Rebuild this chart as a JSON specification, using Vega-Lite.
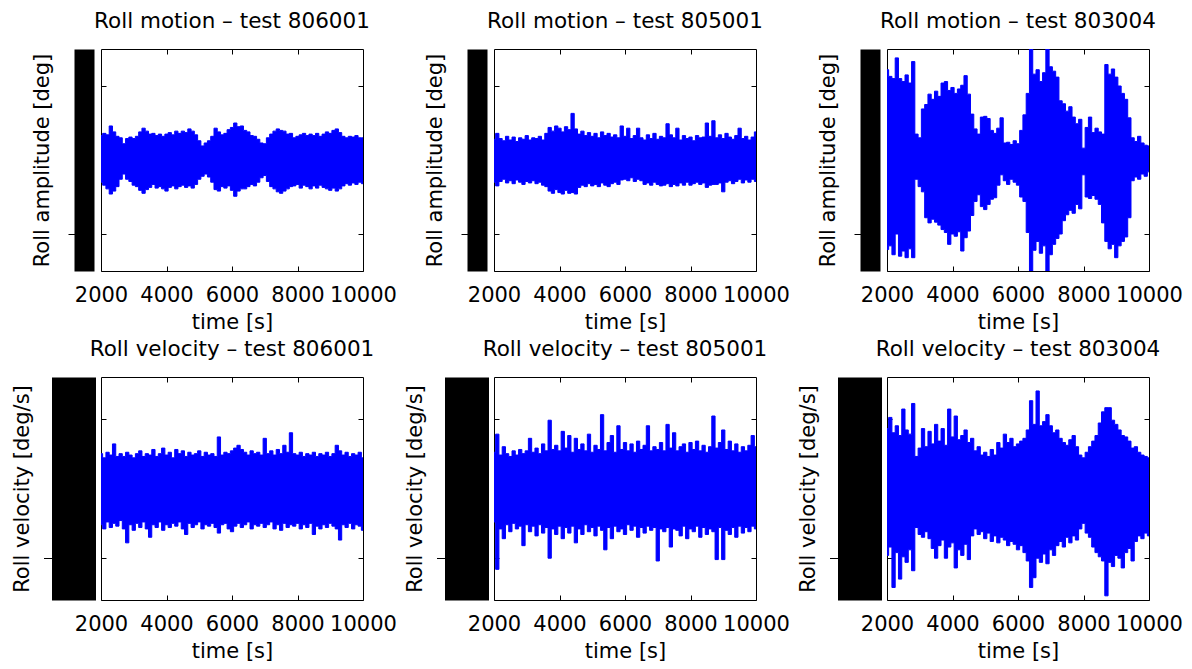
{
  "$schema": "https://vega.github.io/schema/vega-lite/v6.json",
  "padding": {"left": 10, "top": 10, "right": 5, "bottom": 5},
  "background": "white",
  "columns": 3,
  "spacing": {"row": 5, "column": 6},
  "datasets": {
    "m806001": [
      {"t":2000,"h":3.3,"l":-3.0},{"t":2100,"h":3.6,"l":-3.4},{"t":2200,"h":3.4,"l":-3.9},{"t":2300,"h":4.6,"l":-4.6},{"t":2400,"h":3.8,"l":-4.2},
      {"t":2500,"h":3.2,"l":-3.6},{"t":2600,"h":3.0,"l":-2.6},{"t":2700,"h":2.2,"l":-1.9},{"t":2800,"h":2.9,"l":-2.6},{"t":2900,"h":3.1,"l":-2.9},
      {"t":3000,"h":2.9,"l":-3.4},{"t":3100,"h":3.2,"l":-3.6},{"t":3200,"h":3.8,"l":-4.1},{"t":3300,"h":4.3,"l":-4.5},{"t":3400,"h":3.9,"l":-4.0},
      {"t":3500,"h":3.5,"l":-3.7},{"t":3600,"h":3.6,"l":-3.3},{"t":3700,"h":3.3,"l":-3.8},{"t":3800,"h":3.5,"l":-3.6},{"t":3900,"h":3.2,"l":-3.9},
      {"t":4000,"h":3.5,"l":-4.2},{"t":4100,"h":3.7,"l":-3.7},{"t":4200,"h":3.4,"l":-3.5},{"t":4300,"h":3.9,"l":-3.9},{"t":4400,"h":3.6,"l":-3.6},
      {"t":4500,"h":3.9,"l":-3.4},{"t":4600,"h":3.7,"l":-3.7},{"t":4700,"h":4.2,"l":-3.5},{"t":4800,"h":3.9,"l":-3.8},{"t":4900,"h":3.4,"l":-3.3},
      {"t":5000,"h":2.6,"l":-2.6},{"t":5100,"h":1.9,"l":-2.2},{"t":5200,"h":2.3,"l":-1.9},{"t":5300,"h":2.6,"l":-2.3},{"t":5400,"h":3.2,"l":-3.0},
      {"t":5500,"h":4.3,"l":-4.0},{"t":5600,"h":3.8,"l":-4.2},{"t":5700,"h":3.4,"l":-3.6},{"t":5800,"h":3.6,"l":-3.8},{"t":5900,"h":4.1,"l":-3.5},
      {"t":6000,"h":4.4,"l":-4.1},{"t":6100,"h":5.0,"l":-4.9},{"t":6200,"h":4.5,"l":-4.2},{"t":6300,"h":4.6,"l":-3.9},{"t":6400,"h":4.0,"l":-3.9},
      {"t":6500,"h":3.8,"l":-3.6},{"t":6600,"h":3.3,"l":-3.3},{"t":6700,"h":3.2,"l":-3.5},{"t":6800,"h":2.8,"l":-3.0},{"t":6900,"h":2.3,"l":-2.4},
      {"t":7000,"h":2.2,"l":-2.1},{"t":7100,"h":3.0,"l":-2.9},{"t":7200,"h":3.5,"l":-3.6},{"t":7300,"h":3.9,"l":-3.9},{"t":7400,"h":4.2,"l":-4.3},
      {"t":7500,"h":4.0,"l":-4.5},{"t":7600,"h":3.9,"l":-4.2},{"t":7700,"h":3.5,"l":-3.9},{"t":7800,"h":3.6,"l":-3.6},{"t":7900,"h":3.0,"l":-3.5},
      {"t":8000,"h":3.2,"l":-3.3},{"t":8100,"h":3.4,"l":-3.8},{"t":8200,"h":3.6,"l":-3.4},{"t":8300,"h":3.3,"l":-3.6},{"t":8400,"h":3.5,"l":-3.9},
      {"t":8500,"h":3.3,"l":-3.5},{"t":8600,"h":3.6,"l":-3.8},{"t":8700,"h":3.2,"l":-3.4},{"t":8800,"h":3.5,"l":-3.7},{"t":8900,"h":3.8,"l":-3.9},
      {"t":9000,"h":3.6,"l":-4.1},{"t":9100,"h":4.0,"l":-3.8},{"t":9200,"h":4.2,"l":-4.2},{"t":9300,"h":3.7,"l":-3.9},{"t":9400,"h":3.2,"l":-3.5},
      {"t":9500,"h":3.0,"l":-3.2},{"t":9600,"h":3.2,"l":-3.4},{"t":9700,"h":3.1,"l":-3.1},{"t":9800,"h":3.3,"l":-3.3},{"t":9900,"h":3.0,"l":-3.0},
      {"t":10000,"h":3.0,"l":-3.2}
    ],
    "m805001": [
      {"t":2000,"h":2.8,"l":-3.0},{"t":2100,"h":3.6,"l":-3.5},{"t":2200,"h":2.9,"l":-2.9},{"t":2300,"h":2.6,"l":-2.6},{"t":2400,"h":3.2,"l":-3.1},
      {"t":2500,"h":2.7,"l":-2.8},{"t":2600,"h":3.1,"l":-3.2},{"t":2700,"h":2.5,"l":-2.7},{"t":2800,"h":3.0,"l":-3.0},{"t":2900,"h":2.8,"l":-3.3},
      {"t":3000,"h":3.3,"l":-2.9},{"t":3100,"h":2.7,"l":-3.1},{"t":3200,"h":3.0,"l":-2.8},{"t":3300,"h":2.9,"l":-3.2},{"t":3400,"h":3.2,"l":-3.0},
      {"t":3500,"h":2.7,"l":-3.4},{"t":3600,"h":3.6,"l":-3.6},{"t":3700,"h":4.4,"l":-4.2},{"t":3800,"h":3.9,"l":-4.5},{"t":3900,"h":4.6,"l":-4.0},
      {"t":4000,"h":4.3,"l":-4.4},{"t":4100,"h":3.8,"l":-4.6},{"t":4200,"h":4.5,"l":-4.1},{"t":4300,"h":4.1,"l":-4.5},{"t":4400,"h":6.3,"l":-4.4},
      {"t":4500,"h":4.2,"l":-4.6},{"t":4600,"h":3.5,"l":-3.7},{"t":4700,"h":3.9,"l":-3.4},{"t":4800,"h":3.3,"l":-3.6},{"t":4900,"h":3.7,"l":-3.2},
      {"t":5000,"h":3.2,"l":-3.5},{"t":5100,"h":3.6,"l":-3.3},{"t":5200,"h":3.0,"l":-3.6},{"t":5300,"h":3.8,"l":-3.1},{"t":5400,"h":3.3,"l":-3.4},
      {"t":5500,"h":3.6,"l":-3.6},{"t":5600,"h":3.1,"l":-3.2},{"t":5700,"h":3.4,"l":-3.0},{"t":5800,"h":3.0,"l":-3.3},{"t":5900,"h":4.6,"l":-2.7},
      {"t":6000,"h":3.2,"l":-2.6},{"t":6100,"h":4.3,"l":-2.8},{"t":6200,"h":2.9,"l":-2.4},{"t":6300,"h":3.3,"l":-2.9},{"t":6400,"h":4.3,"l":-2.6},
      {"t":6500,"h":3.0,"l":-2.8},{"t":6600,"h":2.7,"l":-3.3},{"t":6700,"h":3.4,"l":-3.1},{"t":6800,"h":2.9,"l":-3.4},{"t":6900,"h":3.6,"l":-3.0},
      {"t":7000,"h":2.8,"l":-3.3},{"t":7100,"h":3.2,"l":-3.5},{"t":7200,"h":3.0,"l":-3.4},{"t":7300,"h":4.9,"l":-3.2},{"t":7400,"h":3.4,"l":-3.6},
      {"t":7500,"h":3.0,"l":-3.3},{"t":7600,"h":4.3,"l":-3.5},{"t":7700,"h":2.7,"l":-3.1},{"t":7800,"h":3.3,"l":-3.4},{"t":7900,"h":2.9,"l":-3.0},
      {"t":8000,"h":3.1,"l":-3.4},{"t":8100,"h":2.6,"l":-3.2},{"t":8200,"h":3.3,"l":-3.0},{"t":8300,"h":3.0,"l":-3.3},{"t":8400,"h":3.1,"l":-3.1},
      {"t":8500,"h":5.0,"l":-3.7},{"t":8600,"h":3.2,"l":-3.4},{"t":8700,"h":5.3,"l":-3.3},{"t":8800,"h":3.0,"l":-3.3},{"t":8900,"h":3.4,"l":-3.1},
      {"t":9000,"h":2.9,"l":-4.3},{"t":9100,"h":3.6,"l":-3.0},{"t":9200,"h":3.1,"l":-2.8},{"t":9300,"h":2.8,"l":-3.2},{"t":9400,"h":3.3,"l":-2.9},
      {"t":9500,"h":4.3,"l":-2.6},{"t":9600,"h":2.9,"l":-3.1},{"t":9700,"h":3.2,"l":-2.7},{"t":9800,"h":2.7,"l":-3.0},{"t":9900,"h":3.1,"l":-2.6},
      {"t":10000,"h":3.8,"l":-2.9}
    ],
    "m803004": [
      {"t":2000,"h":12.2,"l":-12.1},{"t":2100,"h":11.3,"l":-11.6},{"t":2200,"h":11.0,"l":-12.8},{"t":2300,"h":13.8,"l":-10.0},{"t":2400,"h":11.0,"l":-13.0},
      {"t":2500,"h":10.6,"l":-12.3},{"t":2600,"h":11.5,"l":-13.2},{"t":2700,"h":10.4,"l":-12.0},{"t":2800,"h":13.3,"l":-13.2},{"t":2900,"h":3.5,"l":-2.6},
      {"t":3000,"h":3.0,"l":-3.6},{"t":3100,"h":6.9,"l":-4.3},{"t":3200,"h":7.5,"l":-7.8},{"t":3300,"h":8.9,"l":-8.5},{"t":3400,"h":8.2,"l":-8.0},
      {"t":3500,"h":9.3,"l":-8.4},{"t":3600,"h":8.6,"l":-8.8},{"t":3700,"h":10.4,"l":-9.4},{"t":3800,"h":10.6,"l":-9.8},{"t":3900,"h":9.4,"l":-11.4},
      {"t":4000,"h":9.8,"l":-10.0},{"t":4100,"h":9.0,"l":-10.3},{"t":4200,"h":9.6,"l":-9.7},{"t":4300,"h":10.1,"l":-12.3},{"t":4400,"h":11.4,"l":-10.5},
      {"t":4500,"h":8.9,"l":-9.6},{"t":4600,"h":6.2,"l":-7.5},{"t":4700,"h":4.2,"l":-5.6},{"t":4800,"h":3.5,"l":-4.7},{"t":4900,"h":5.8,"l":-6.3},
      {"t":5000,"h":5.9,"l":-6.7},{"t":5100,"h":5.6,"l":-6.0},{"t":5200,"h":4.0,"l":-5.3},{"t":5300,"h":3.6,"l":-5.1},{"t":5400,"h":4.3,"l":-3.4},
      {"t":5500,"h":5.7,"l":-2.0},{"t":5600,"h":2.3,"l":-2.8},{"t":5700,"h":2.4,"l":-3.3},{"t":5800,"h":2.1,"l":-2.6},{"t":5900,"h":2.6,"l":-3.0},
      {"t":6000,"h":2.2,"l":-3.4},{"t":6100,"h":4.0,"l":-5.0},{"t":6200,"h":6.1,"l":-5.6},{"t":6300,"h":9.0,"l":-9.8},{"t":6400,"h":15.0,"l":-15.0},
      {"t":6500,"h":11.6,"l":-12.2},{"t":6600,"h":12.2,"l":-11.0},{"t":6700,"h":10.6,"l":-12.6},{"t":6800,"h":11.8,"l":-11.6},{"t":6900,"h":15.0,"l":-15.0},
      {"t":7000,"h":12.6,"l":-12.8},{"t":7100,"h":12.0,"l":-11.4},{"t":7200,"h":11.2,"l":-10.6},{"t":7300,"h":8.0,"l":-10.0},{"t":7400,"h":7.6,"l":-8.2},
      {"t":7500,"h":6.6,"l":-7.4},{"t":7600,"h":7.2,"l":-6.8},{"t":7700,"h":5.8,"l":-7.2},{"t":7800,"h":4.9,"l":-6.0},{"t":7900,"h":5.5,"l":-6.6},
      {"t":8000,"h":1.6,"l":-2.0},{"t":8100,"h":4.4,"l":-5.0},{"t":8200,"h":5.8,"l":-5.2},{"t":8300,"h":3.7,"l":-4.8},{"t":8400,"h":4.3,"l":-5.3},
      {"t":8500,"h":3.8,"l":-6.0},{"t":8600,"h":3.5,"l":-8.5},{"t":8700,"h":12.9,"l":-11.0},{"t":8800,"h":11.6,"l":-12.0},{"t":8900,"h":12.3,"l":-11.4},
      {"t":9000,"h":11.2,"l":-13.2},{"t":9100,"h":10.0,"l":-11.6},{"t":9200,"h":9.0,"l":-11.0},{"t":9300,"h":8.2,"l":-10.4},{"t":9400,"h":5.7,"l":-7.8},
      {"t":9500,"h":3.0,"l":-2.8},{"t":9600,"h":2.5,"l":-2.3},{"t":9700,"h":3.2,"l":-2.6},{"t":9800,"h":2.3,"l":-1.9},{"t":9900,"h":2.0,"l":-2.2},
      {"t":10000,"h":1.9,"l":-1.6}
    ],
    "v806001": [
      {"t":2000,"h":2.5,"l":-2.6},{"t":2100,"h":2.2,"l":-2.9},{"t":2200,"h":2.6,"l":-2.4},{"t":2300,"h":2.4,"l":-2.8},{"t":2400,"h":3.2,"l":-2.5},
      {"t":2500,"h":2.3,"l":-2.7},{"t":2600,"h":2.5,"l":-2.3},{"t":2700,"h":2.3,"l":-2.9},{"t":2800,"h":2.6,"l":-3.9},{"t":2900,"h":2.4,"l":-2.6},
      {"t":3000,"h":2.2,"l":-3.0},{"t":3100,"h":2.5,"l":-2.5},{"t":3200,"h":2.7,"l":-2.8},{"t":3300,"h":2.3,"l":-2.4},{"t":3400,"h":2.5,"l":-2.9},
      {"t":3500,"h":2.4,"l":-3.5},{"t":3600,"h":2.8,"l":-2.6},{"t":3700,"h":2.3,"l":-2.8},{"t":3800,"h":2.5,"l":-2.4},{"t":3900,"h":2.9,"l":-3.0},
      {"t":4000,"h":2.4,"l":-2.6},{"t":4100,"h":2.6,"l":-2.8},{"t":4200,"h":2.2,"l":-2.5},{"t":4300,"h":2.8,"l":-2.7},{"t":4400,"h":2.5,"l":-2.4},
      {"t":4500,"h":2.7,"l":-2.9},{"t":4600,"h":2.3,"l":-3.3},{"t":4700,"h":2.6,"l":-2.5},{"t":4800,"h":2.4,"l":-2.8},{"t":4900,"h":2.5,"l":-2.6},
      {"t":5000,"h":2.7,"l":-2.4},{"t":5100,"h":2.3,"l":-2.9},{"t":5200,"h":2.6,"l":-2.6},{"t":5300,"h":2.4,"l":-2.7},{"t":5400,"h":2.5,"l":-2.5},
      {"t":5500,"h":2.3,"l":-2.8},{"t":5600,"h":3.7,"l":-3.2},{"t":5700,"h":2.4,"l":-2.6},{"t":5800,"h":2.6,"l":-2.5},{"t":5900,"h":2.5,"l":-2.9},
      {"t":6000,"h":2.7,"l":-3.1},{"t":6100,"h":2.9,"l":-2.7},{"t":6200,"h":3.1,"l":-2.5},{"t":6300,"h":2.8,"l":-2.8},{"t":6400,"h":2.6,"l":-2.6},
      {"t":6500,"h":2.4,"l":-2.4},{"t":6600,"h":2.7,"l":-2.9},{"t":6700,"h":2.5,"l":-2.6},{"t":6800,"h":2.6,"l":-2.7},{"t":6900,"h":2.4,"l":-2.5},
      {"t":7000,"h":3.6,"l":-2.8},{"t":7100,"h":2.5,"l":-2.6},{"t":7200,"h":2.7,"l":-2.4},{"t":7300,"h":2.4,"l":-2.9},{"t":7400,"h":2.8,"l":-2.6},
      {"t":7500,"h":2.5,"l":-3.0},{"t":7600,"h":3.1,"l":-2.5},{"t":7700,"h":2.6,"l":-2.8},{"t":7800,"h":4.0,"l":-2.6},{"t":7900,"h":2.5,"l":-2.7},
      {"t":8000,"h":2.4,"l":-2.5},{"t":8100,"h":2.6,"l":-2.9},{"t":8200,"h":2.3,"l":-2.6},{"t":8300,"h":2.5,"l":-2.8},{"t":8400,"h":2.4,"l":-2.5},
      {"t":8500,"h":2.6,"l":-3.3},{"t":8600,"h":2.3,"l":-2.7},{"t":8700,"h":2.5,"l":-2.9},{"t":8800,"h":2.4,"l":-2.6},{"t":8900,"h":2.6,"l":-2.8},
      {"t":9000,"h":2.3,"l":-2.5},{"t":9100,"h":2.5,"l":-2.7},{"t":9200,"h":3.1,"l":-2.9},{"t":9300,"h":2.7,"l":-3.7},{"t":9400,"h":2.4,"l":-2.6},
      {"t":9500,"h":2.6,"l":-2.8},{"t":9600,"h":2.3,"l":-2.5},{"t":9700,"h":2.5,"l":-2.9},{"t":9800,"h":2.4,"l":-2.6},{"t":9900,"h":2.6,"l":-2.7},
      {"t":10000,"h":2.2,"l":-3.0}
    ],
    "v805001": [
      {"t":2000,"h":2.6,"l":-2.4},{"t":2100,"h":3.9,"l":-5.8},{"t":2200,"h":2.4,"l":-2.9},{"t":2300,"h":3.0,"l":-3.6},{"t":2400,"h":2.5,"l":-2.6},
      {"t":2500,"h":2.3,"l":-3.1},{"t":2600,"h":2.7,"l":-2.5},{"t":2700,"h":2.4,"l":-2.9},{"t":2800,"h":2.8,"l":-2.7},{"t":2900,"h":2.5,"l":-4.1},
      {"t":3000,"h":2.7,"l":-2.6},{"t":3100,"h":3.6,"l":-3.1},{"t":3200,"h":2.6,"l":-2.7},{"t":3300,"h":2.9,"l":-3.4},{"t":3400,"h":2.5,"l":-2.6},
      {"t":3500,"h":3.2,"l":-3.2},{"t":3600,"h":2.7,"l":-2.8},{"t":3700,"h":4.9,"l":-5.0},{"t":3800,"h":2.8,"l":-2.9},{"t":3900,"h":3.1,"l":-3.3},
      {"t":4000,"h":2.7,"l":-2.7},{"t":4100,"h":4.1,"l":-3.6},{"t":4200,"h":2.9,"l":-2.8},{"t":4300,"h":3.8,"l":-3.2},{"t":4400,"h":2.6,"l":-2.7},
      {"t":4500,"h":3.6,"l":-3.9},{"t":4600,"h":2.8,"l":-2.9},{"t":4700,"h":3.2,"l":-3.3},{"t":4800,"h":2.7,"l":-2.6},{"t":4900,"h":3.9,"l":-3.1},
      {"t":5000,"h":2.6,"l":-2.8},{"t":5100,"h":3.1,"l":-3.4},{"t":5200,"h":2.8,"l":-2.7},{"t":5300,"h":5.3,"l":-3.0},{"t":5400,"h":2.7,"l":-4.4},
      {"t":5500,"h":3.3,"l":-2.8},{"t":5600,"h":3.8,"l":-3.6},{"t":5700,"h":2.6,"l":-2.7},{"t":5800,"h":4.5,"l":-3.1},{"t":5900,"h":2.8,"l":-2.9},
      {"t":6000,"h":3.3,"l":-3.3},{"t":6100,"h":2.7,"l":-2.6},{"t":6200,"h":3.2,"l":-3.0},{"t":6300,"h":2.6,"l":-2.7},{"t":6400,"h":3.4,"l":-3.5},
      {"t":6500,"h":2.8,"l":-2.8},{"t":6600,"h":3.1,"l":-3.2},{"t":6700,"h":4.5,"l":-2.7},{"t":6800,"h":2.7,"l":-3.0},{"t":6900,"h":3.0,"l":-2.8},
      {"t":7000,"h":2.8,"l":-5.2},{"t":7100,"h":3.3,"l":-2.9},{"t":7200,"h":2.7,"l":-3.1},{"t":7300,"h":4.6,"l":-2.8},{"t":7400,"h":2.9,"l":-4.2},
      {"t":7500,"h":4.0,"l":-2.9},{"t":7600,"h":2.7,"l":-3.0},{"t":7700,"h":3.0,"l":-3.4},{"t":7800,"h":3.2,"l":-2.7},{"t":7900,"h":2.6,"l":-3.6},
      {"t":8000,"h":3.3,"l":-2.9},{"t":8100,"h":2.8,"l":-3.1},{"t":8200,"h":3.4,"l":-2.7},{"t":8300,"h":2.7,"l":-3.5},{"t":8400,"h":3.1,"l":-2.8},
      {"t":8500,"h":2.6,"l":-3.3},{"t":8600,"h":3.0,"l":-2.9},{"t":8700,"h":5.2,"l":-3.1},{"t":8800,"h":2.9,"l":-5.1},{"t":8900,"h":3.3,"l":-2.8},
      {"t":9000,"h":4.2,"l":-5.1},{"t":9100,"h":2.8,"l":-3.0},{"t":9200,"h":3.4,"l":-3.3},{"t":9300,"h":2.7,"l":-2.8},{"t":9400,"h":3.2,"l":-3.5},
      {"t":9500,"h":2.6,"l":-2.7},{"t":9600,"h":3.0,"l":-3.2},{"t":9700,"h":2.7,"l":-2.8},{"t":9800,"h":3.1,"l":-3.1},{"t":9900,"h":3.8,"l":-2.7},
      {"t":10000,"h":3.0,"l":-2.9}
    ],
    "v803004": [
      {"t":2000,"h":4.3,"l":-4.8},{"t":2100,"h":5.1,"l":-4.2},{"t":2200,"h":4.0,"l":-7.1},{"t":2300,"h":4.5,"l":-4.6},{"t":2400,"h":3.8,"l":-6.5},
      {"t":2500,"h":5.7,"l":-4.9},{"t":2600,"h":4.2,"l":-5.3},{"t":2700,"h":3.9,"l":-4.4},{"t":2800,"h":6.1,"l":-5.9},{"t":2900,"h":2.3,"l":-2.8},
      {"t":3000,"h":2.9,"l":-3.3},{"t":3100,"h":4.3,"l":-3.5},{"t":3200,"h":3.0,"l":-3.1},{"t":3300,"h":4.1,"l":-3.6},{"t":3400,"h":3.2,"l":-4.3},
      {"t":3500,"h":4.6,"l":-5.0},{"t":3600,"h":3.4,"l":-4.1},{"t":3700,"h":4.3,"l":-3.7},{"t":3800,"h":3.1,"l":-5.0},{"t":3900,"h":5.7,"l":-4.2},
      {"t":4000,"h":3.7,"l":-3.9},{"t":4100,"h":5.2,"l":-5.7},{"t":4200,"h":3.5,"l":-4.4},{"t":4300,"h":3.8,"l":-4.8},{"t":4400,"h":4.2,"l":-4.0},
      {"t":4500,"h":3.3,"l":-5.1},{"t":4600,"h":3.6,"l":-3.4},{"t":4700,"h":2.7,"l":-2.9},{"t":4800,"h":3.0,"l":-3.3},{"t":4900,"h":2.4,"l":-3.1},
      {"t":5000,"h":2.6,"l":-3.6},{"t":5100,"h":2.3,"l":-3.2},{"t":5200,"h":2.8,"l":-3.8},{"t":5300,"h":2.4,"l":-3.4},{"t":5400,"h":3.3,"l":-3.9},
      {"t":5500,"h":2.9,"l":-3.5},{"t":5600,"h":3.9,"l":-3.7},{"t":5700,"h":3.3,"l":-4.1},{"t":5800,"h":3.6,"l":-3.8},{"t":5900,"h":3.0,"l":-4.0},
      {"t":6000,"h":3.2,"l":-4.4},{"t":6100,"h":3.4,"l":-4.1},{"t":6200,"h":3.6,"l":-4.6},{"t":6300,"h":4.2,"l":-5.2},{"t":6400,"h":6.3,"l":-7.1},
      {"t":6500,"h":4.6,"l":-6.4},{"t":6600,"h":7.0,"l":-5.0},{"t":6700,"h":4.5,"l":-5.3},{"t":6800,"h":4.8,"l":-4.7},{"t":6900,"h":5.3,"l":-5.4},
      {"t":7000,"h":4.5,"l":-4.4},{"t":7100,"h":4.0,"l":-4.8},{"t":7200,"h":4.2,"l":-4.1},{"t":7300,"h":3.6,"l":-3.8},{"t":7400,"h":3.3,"l":-4.2},
      {"t":7500,"h":3.1,"l":-3.5},{"t":7600,"h":3.5,"l":-3.9},{"t":7700,"h":3.8,"l":-3.4},{"t":7800,"h":3.0,"l":-3.7},{"t":7900,"h":2.4,"l":-2.9},
      {"t":8000,"h":2.2,"l":-2.5},{"t":8100,"h":2.6,"l":-3.2},{"t":8200,"h":3.0,"l":-3.5},{"t":8300,"h":3.4,"l":-4.2},{"t":8400,"h":3.8,"l":-4.6},
      {"t":8500,"h":4.7,"l":-4.9},{"t":8600,"h":5.5,"l":-5.2},{"t":8700,"h":5.8,"l":-7.7},{"t":8800,"h":5.8,"l":-5.3},{"t":8900,"h":4.9,"l":-5.6},
      {"t":9000,"h":4.6,"l":-4.8},{"t":9100,"h":4.2,"l":-5.0},{"t":9200,"h":3.8,"l":-5.7},{"t":9300,"h":3.7,"l":-4.6},{"t":9400,"h":3.4,"l":-4.3},
      {"t":9500,"h":2.9,"l":-5.2},{"t":9600,"h":3.0,"l":-3.8},{"t":9700,"h":2.6,"l":-3.4},{"t":9800,"h":2.4,"l":-3.6},{"t":9900,"h":2.3,"l":-3.2},
      {"t":10000,"h":2.2,"l":-3.4}
    ]
  },
  "concat": [
    {
      "title": "Roll motion – test 806001",
      "width": 262, "height": 222,
      "data": {"name": "m806001"},
      "resolve": {"axis": {"x": "independent", "y": "independent"}},
      "layer": [
        {"mark": {"type": "area", "color": "#0000ff", "interpolate": "step", "clip": true},
         "encoding": {
           "x": {"field": "t", "type": "quantitative", "scale": {"domain": [2000, 10000], "nice": false},
                 "axis": {"orient": "bottom", "values": [2000, 4000, 6000, 8000, 10000], "format": "d", "domain": false, "tickSize": -5, "labelPadding": 18, "labelFlush": false, "labelOverlap": false, "title": "time [s]", "titlePadding": 6}},
           "y": {"field": "h", "type": "quantitative", "scale": {"domain": [-15, 15], "nice": false},
                 "axis": {"orient": "left", "offset": 17, "domainWidth": 20, "labels": false, "values": [-10], "tickSize": 16, "title": "Roll amplitude [deg]", "titlePadding": 15}},
           "y2": {"field": "l"}}},
        {"mark": {"type": "line", "color": "#0000ff", "strokeWidth": 1, "interpolate": "step", "clip": true},
         "encoding": {
           "x": {"field": "t", "type": "quantitative", "axis": {"orient": "top", "values": [4000, 6000, 8000], "domain": false, "labels": false, "tickSize": -5, "title": null}},
           "y": {"field": "h", "type": "quantitative", "axis": {"orient": "right", "values": [-10, 10], "domain": false, "labels": false, "tickSize": -5, "title": null}}}},
        {"mark": {"type": "line", "color": "#0000ff", "strokeWidth": 1, "interpolate": "step", "clip": true},
         "encoding": {
           "x": {"field": "t", "type": "quantitative", "axis": null},
           "y": {"field": "l", "type": "quantitative", "axis": {"orient": "left", "values": [-10, 10], "domain": false, "labels": false, "tickSize": -5, "title": null}}}}
      ]
    },
    {
      "title": "Roll motion – test 805001",
      "width": 262, "height": 222,
      "data": {"name": "m805001"},
      "resolve": {"axis": {"x": "independent", "y": "independent"}},
      "layer": [
        {"mark": {"type": "area", "color": "#0000ff", "interpolate": "step", "clip": true},
         "encoding": {
           "x": {"field": "t", "type": "quantitative", "scale": {"domain": [2000, 10000], "nice": false},
                 "axis": {"orient": "bottom", "values": [2000, 4000, 6000, 8000, 10000], "format": "d", "domain": false, "tickSize": -5, "labelPadding": 18, "labelFlush": false, "labelOverlap": false, "title": "time [s]", "titlePadding": 6}},
           "y": {"field": "h", "type": "quantitative", "scale": {"domain": [-15, 15], "nice": false},
                 "axis": {"orient": "left", "offset": 17, "domainWidth": 20, "labels": false, "values": [-10], "tickSize": 16, "title": "Roll amplitude [deg]", "titlePadding": 15}},
           "y2": {"field": "l"}}},
        {"mark": {"type": "line", "color": "#0000ff", "strokeWidth": 1, "interpolate": "step", "clip": true},
         "encoding": {
           "x": {"field": "t", "type": "quantitative", "axis": {"orient": "top", "values": [4000, 6000, 8000], "domain": false, "labels": false, "tickSize": -5, "title": null}},
           "y": {"field": "h", "type": "quantitative", "axis": {"orient": "right", "values": [-10, 10], "domain": false, "labels": false, "tickSize": -5, "title": null}}}},
        {"mark": {"type": "line", "color": "#0000ff", "strokeWidth": 1, "interpolate": "step", "clip": true},
         "encoding": {
           "x": {"field": "t", "type": "quantitative", "axis": null},
           "y": {"field": "l", "type": "quantitative", "axis": {"orient": "left", "values": [-10, 10], "domain": false, "labels": false, "tickSize": -5, "title": null}}}}
      ]
    },
    {
      "title": "Roll motion – test 803004",
      "width": 262, "height": 222,
      "data": {"name": "m803004"},
      "resolve": {"axis": {"x": "independent", "y": "independent"}},
      "layer": [
        {"mark": {"type": "area", "color": "#0000ff", "interpolate": "step", "clip": true},
         "encoding": {
           "x": {"field": "t", "type": "quantitative", "scale": {"domain": [2000, 10000], "nice": false},
                 "axis": {"orient": "bottom", "values": [2000, 4000, 6000, 8000, 10000], "format": "d", "domain": false, "tickSize": -5, "labelPadding": 18, "labelFlush": false, "labelOverlap": false, "title": "time [s]", "titlePadding": 6}},
           "y": {"field": "h", "type": "quantitative", "scale": {"domain": [-15, 15], "nice": false},
                 "axis": {"orient": "left", "offset": 17, "domainWidth": 20, "labels": false, "values": [-10], "tickSize": 16, "title": "Roll amplitude [deg]", "titlePadding": 15}},
           "y2": {"field": "l"}}},
        {"mark": {"type": "line", "color": "#0000ff", "strokeWidth": 1, "interpolate": "step", "clip": true},
         "encoding": {
           "x": {"field": "t", "type": "quantitative", "axis": {"orient": "top", "values": [4000, 6000, 8000], "domain": false, "labels": false, "tickSize": -5, "title": null}},
           "y": {"field": "h", "type": "quantitative", "axis": {"orient": "right", "values": [-10, 10], "domain": false, "labels": false, "tickSize": -5, "title": null}}}},
        {"mark": {"type": "line", "color": "#0000ff", "strokeWidth": 1, "interpolate": "step", "clip": true},
         "encoding": {
           "x": {"field": "t", "type": "quantitative", "axis": null},
           "y": {"field": "l", "type": "quantitative", "axis": {"orient": "left", "values": [-10, 10], "domain": false, "labels": false, "tickSize": -5, "title": null}}}}
      ]
    },
    {
      "title": "Roll velocity – test 806001",
      "width": 262, "height": 223,
      "data": {"name": "v806001"},
      "resolve": {"axis": {"x": "independent", "y": "independent"}},
      "layer": [
        {"mark": {"type": "area", "color": "#0000ff", "interpolate": "step", "clip": true},
         "encoding": {
           "x": {"field": "t", "type": "quantitative", "scale": {"domain": [2000, 10000], "nice": false},
                 "axis": {"orient": "bottom", "values": [2000, 4000, 6000, 8000, 10000], "format": "d", "domain": false, "tickSize": -5, "labelPadding": 18, "labelFlush": false, "labelOverlap": false, "title": "time [s]", "titlePadding": 6}},
           "y": {"field": "h", "type": "quantitative", "scale": {"domain": [-8, 8], "nice": false},
                 "axis": {"orient": "left", "offset": 27.5, "domainWidth": 44, "labels": false, "values": [-5], "tickSize": 30, "title": "Roll velocity [deg/s]", "titlePadding": 11}},
           "y2": {"field": "l"}}},
        {"mark": {"type": "line", "color": "#0000ff", "strokeWidth": 1, "interpolate": "step", "clip": true},
         "encoding": {
           "x": {"field": "t", "type": "quantitative", "axis": {"orient": "top", "values": [4000, 6000, 8000], "domain": false, "labels": false, "tickSize": -5, "title": null}},
           "y": {"field": "h", "type": "quantitative", "axis": {"orient": "right", "values": [-5, 5], "domain": false, "labels": false, "tickSize": -5, "title": null}}}},
        {"mark": {"type": "line", "color": "#0000ff", "strokeWidth": 1, "interpolate": "step", "clip": true},
         "encoding": {
           "x": {"field": "t", "type": "quantitative", "axis": null},
           "y": {"field": "l", "type": "quantitative", "axis": {"orient": "left", "values": [-5, 5], "domain": false, "labels": false, "tickSize": -5, "title": null}}}}
      ]
    },
    {
      "title": "Roll velocity – test 805001",
      "width": 262, "height": 223,
      "data": {"name": "v805001"},
      "resolve": {"axis": {"x": "independent", "y": "independent"}},
      "layer": [
        {"mark": {"type": "area", "color": "#0000ff", "interpolate": "step", "clip": true},
         "encoding": {
           "x": {"field": "t", "type": "quantitative", "scale": {"domain": [2000, 10000], "nice": false},
                 "axis": {"orient": "bottom", "values": [2000, 4000, 6000, 8000, 10000], "format": "d", "domain": false, "tickSize": -5, "labelPadding": 18, "labelFlush": false, "labelOverlap": false, "title": "time [s]", "titlePadding": 6}},
           "y": {"field": "h", "type": "quantitative", "scale": {"domain": [-8, 8], "nice": false},
                 "axis": {"orient": "left", "offset": 27.5, "domainWidth": 44, "labels": false, "values": [-5], "tickSize": 30, "title": "Roll velocity [deg/s]", "titlePadding": 11}},
           "y2": {"field": "l"}}},
        {"mark": {"type": "line", "color": "#0000ff", "strokeWidth": 1, "interpolate": "step", "clip": true},
         "encoding": {
           "x": {"field": "t", "type": "quantitative", "axis": {"orient": "top", "values": [4000, 6000, 8000], "domain": false, "labels": false, "tickSize": -5, "title": null}},
           "y": {"field": "h", "type": "quantitative", "axis": {"orient": "right", "values": [-5, 5], "domain": false, "labels": false, "tickSize": -5, "title": null}}}},
        {"mark": {"type": "line", "color": "#0000ff", "strokeWidth": 1, "interpolate": "step", "clip": true},
         "encoding": {
           "x": {"field": "t", "type": "quantitative", "axis": null},
           "y": {"field": "l", "type": "quantitative", "axis": {"orient": "left", "values": [-5, 5], "domain": false, "labels": false, "tickSize": -5, "title": null}}}}
      ]
    },
    {
      "title": "Roll velocity – test 803004",
      "width": 262, "height": 223,
      "data": {"name": "v803004"},
      "resolve": {"axis": {"x": "independent", "y": "independent"}},
      "layer": [
        {"mark": {"type": "area", "color": "#0000ff", "interpolate": "step", "clip": true},
         "encoding": {
           "x": {"field": "t", "type": "quantitative", "scale": {"domain": [2000, 10000], "nice": false},
                 "axis": {"orient": "bottom", "values": [2000, 4000, 6000, 8000, 10000], "format": "d", "domain": false, "tickSize": -5, "labelPadding": 18, "labelFlush": false, "labelOverlap": false, "title": "time [s]", "titlePadding": 6}},
           "y": {"field": "h", "type": "quantitative", "scale": {"domain": [-8, 8], "nice": false},
                 "axis": {"orient": "left", "offset": 27.5, "domainWidth": 44, "labels": false, "values": [-5], "tickSize": 30, "title": "Roll velocity [deg/s]", "titlePadding": 11}},
           "y2": {"field": "l"}}},
        {"mark": {"type": "line", "color": "#0000ff", "strokeWidth": 1, "interpolate": "step", "clip": true},
         "encoding": {
           "x": {"field": "t", "type": "quantitative", "axis": {"orient": "top", "values": [4000, 6000, 8000], "domain": false, "labels": false, "tickSize": -5, "title": null}},
           "y": {"field": "h", "type": "quantitative", "axis": {"orient": "right", "values": [-5, 5], "domain": false, "labels": false, "tickSize": -5, "title": null}}}},
        {"mark": {"type": "line", "color": "#0000ff", "strokeWidth": 1, "interpolate": "step", "clip": true},
         "encoding": {
           "x": {"field": "t", "type": "quantitative", "axis": null},
           "y": {"field": "l", "type": "quantitative", "axis": {"orient": "left", "values": [-5, 5], "domain": false, "labels": false, "tickSize": -5, "title": null}}}}
      ]
    }
  ],
  "config": {
    "font": "DejaVu Sans",
    "view": {"stroke": "#000000", "strokeWidth": 1},
    "axis": {
      "grid": false,
      "labelFont": "DejaVu Sans", "labelFontSize": 21, "labelColor": "#000000",
      "titleFont": "DejaVu Sans", "titleFontSize": 21, "titleFontWeight": "normal", "titleColor": "#000000",
      "tickColor": "#000000", "tickWidth": 1, "domainColor": "#000000", "domainCap": "butt"
    },
    "title": {"font": "DejaVu Sans", "fontSize": 21.5, "fontWeight": "normal", "color": "#000000", "offset": 16}
  }
}
